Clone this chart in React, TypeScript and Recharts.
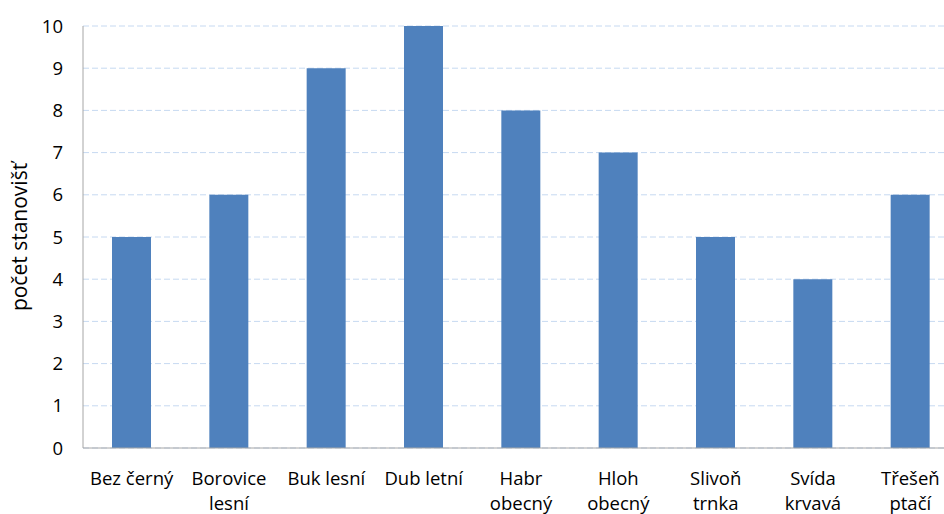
import React from 'react';
import { BarChart, Bar, XAxis, YAxis, CartesianGrid, Label } from 'recharts';

// druhy dřevin a počet stanovišť
const species = [
    ['Bez černý'],
    ['Borovice', 'lesní'],
    ['Buk lesní'],
    ['Dub letní'],
    ['Habr', 'obecný'],
    ['Hloh', 'obecný'],
    ['Slivoň', 'trnka'],
    ['Svída', 'krvavá'],
    ['Třešeň', 'ptačí'],
];
const siteCounts = [5, 6, 9, 10, 8, 7, 5, 4, 6];
const yTicks = [0, 1, 2, 3, 4, 5, 6, 7, 8, 9, 10];

const FONT = '"Open Sans", Lato, sans-serif';
const FONT_SIZE = 18.5;

const data = species.map((lines, i) => ({ name: lines.join(' '), lines, count: siteCounts[i] }));

const CategoryTick = (props: any) => {
    const { x, y, payload } = props;
    const lines = data[payload.index]?.lines ?? [payload.value];
    return (
        <text x={x} y={y} textAnchor="middle" fill="#000" fontSize={FONT_SIZE} fontFamily={FONT}>
            {lines.map((l: string, i: number) => (
                <tspan key={i} x={x} dy={i === 0 ? 29 : 25}>{l}</tspan>
            ))}
        </text>
    );
};

export default function App() {
    return (
        <div style={{ position: 'absolute', top: 0, left: 0, width: 944, height: 514, overflow: 'hidden', background: '#fff' }}>
            <BarChart width={980} height={540} data={data} margin={{ top: 26, right: 21, left: 0, bottom: 32 }}>
                <CartesianGrid vertical={false} stroke="#C6D9F1" strokeDasharray="6 3" />
                <XAxis dataKey="name" interval={0} height={60} tickLine={false} axisLine={{ stroke: '#A6A6A6' }} tick={<CategoryTick />} />
                <YAxis domain={[0, 10]} ticks={yTicks} interval={0} width={83} tickLine={false} tickSize={0} tickMargin={20}
                    axisLine={{ stroke: '#A6A6A6' }} tick={{ fill: '#000', fontSize: FONT_SIZE, fontFamily: FONT }}>
                    <Label value="počet stanovišť" angle={-90} position="insideLeft" offset={20}
                        style={{ textAnchor: 'middle', fill: '#000', fontSize: 21, fontFamily: FONT }} />
                </YAxis>
                <Bar dataKey="count" fill="#4F81BD" barSize={39} isAnimationActive={false} />
            </BarChart>
        </div>
    );
}
